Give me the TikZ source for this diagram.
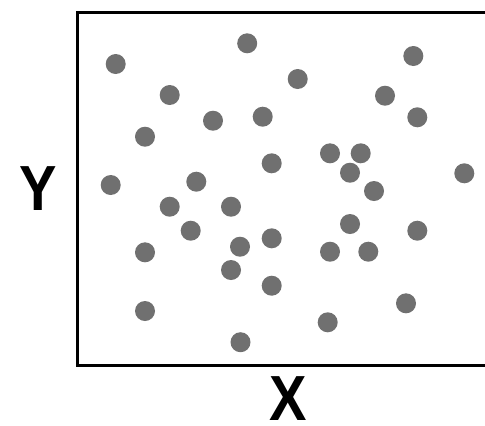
\documentclass[tikz,border=0pt]{standalone}
\usepackage{fontspec}
\setmainfont{Liberation Sans}
\definecolor{dotgray}{HTML}{707070}
\begin{document}
\begin{tikzpicture}[x=1bp,y=-1bp,
  dot/.style={circle,fill=dotgray,draw=none,minimum size=20bp,inner sep=0pt},
  axislabel/.style={font=\fontsize{64}{64}\selectfont\bfseries,inner sep=0pt,text=black,xscale=0.88},
  frame/.style={draw=black,line width=3bp}]
\useasboundingbox (0,0) rectangle (485,425);
\fill[white] (0,0) rectangle (485,425);
\coordinate (tr) at (486,12.5);
\coordinate (tl) at (77.5,12.5);
\coordinate (bl) at (77.5,365.7);
\coordinate (br) at (486,365.7);
\draw[frame] (tr) -- (tl) -- (bl) -- (br);
\node[axislabel] (ylab) at (38,188.5) {Y};
\node[axislabel] (xlab) at (288,398.5) {X};
\foreach \i/\x/\y in {
 1/115.7/64, 2/247.2/43.3, 3/297.7/79, 4/413.3/56, 5/169.7/95,
 6/385/95.7, 7/213/120.7, 8/262.7/116.7, 9/417.3/117.3, 10/145/136.7,
 11/271.7/163.3, 12/330/153.3, 13/360.7/153.3, 14/350/172.7, 15/374/191,
 16/464.3/173.3, 17/110.7/185, 18/196.3/181.7, 19/169.7/206.7, 20/231/206.7,
 21/350/224, 22/190.7/230.7, 23/417.3/230.7, 24/145/252.3, 25/240/246.7,
 26/271.7/238.3, 27/330/251.7, 28/368.3/251.7, 29/231/270, 30/271.7/285.7,
 31/145/311, 32/406/303.3, 33/327.7/322.3, 34/240.5/342.2}
  \node[dot] (d\i) at (\x,\y) {};
\end{tikzpicture}
\end{document}
